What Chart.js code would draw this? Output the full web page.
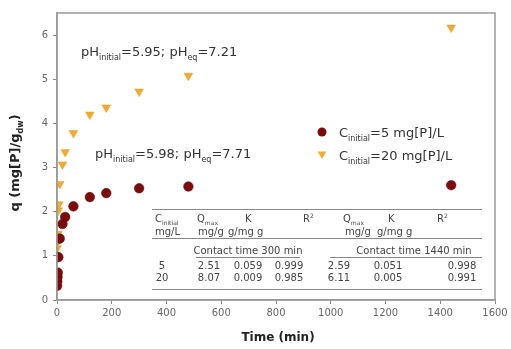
<!DOCTYPE html>
<html>
<head>
<meta charset="utf-8">
<title>P sorption kinetics</title>
<script src="https://cdn.jsdelivr.net/npm/chart.js@4.4.1/dist/chart.umd.min.js"></script>
<style>
html, body { margin: 0; padding: 0; background: #fff; }
</style>
</head>
<body>
<canvas id="mycanvas" width="511" height="349"></canvas>
<script>
// contact time (min) and sorbed P, C_initial = 5 mg[P]/L
var time5 = [0.5, 1, 2, 3, 5, 10, 20, 30, 60, 120, 180, 300, 480, 1440];
var q5 = [0.32, 0.42, 0.52, 0.62, 0.97, 1.39, 1.72, 1.88, 2.12, 2.33, 2.42, 2.53, 2.57, 2.6];
// C_initial = 20 mg[P]/L
var time20 = [0.5, 1, 2, 3, 5, 7, 10, 20, 30, 60, 120, 180, 300, 480, 1440];
var q20 = [1.17, 1.29, 1.43, 1.5, 2.03, 2.17, 2.63, 3.07, 3.35, 3.78, 4.2, 4.36, 4.72, 5.08, 6.17];

var seriesLabels = ['C_{initial}=5 mg[P]/L', 'C_{initial}=20 mg[P]/L'];
var phLabels = ['pH_{initial}=5.95; pH_{eq}=7.21', 'pH_{initial}=5.98; pH_{eq}=7.71'];
var xTitle = 'Time (min)';
var yTitle = 'q (mg[P]/g_{dw})';

// inset table
var tableHead = ['C_{initial}', 'Q_{max}', 'K', 'R^{2}', 'Q_{max}', 'K', 'R^{2}'];
var tableUnits = ['mg/L', 'mg/g', 'g/mg g', '', 'mg/g', 'g/mg g', ''];
var contactLabels = ['Contact time 300 min', 'Contact time 1440 min'];
var tableRows = [
  ['5', '2.51', '0.059', '0.999', '2.59', '0.051', '0.998'],
  ['20', '8.07', '0.009', '0.985', '6.11', '0.005', '0.991']
];

var FONT = '"DejaVu Sans", Arial, sans-serif';
var RED = '#7e0b0b';
var GOLD = '#f1ab30';

function toPoints(xs, ys) {
  return xs.map(function (x, i) { return {x: x, y: ys[i]}; });
}

// draws text with _{sub} and ^{sup} parts
function drawRich(ctx, str, x, y, size, align, weight) {
  var parts = [], re = /([_^])\{([^}]*)\}/g, last = 0, m;
  while ((m = re.exec(str))) {
    if (m.index > last) parts.push({t: str.slice(last, m.index), k: ''});
    parts.push({t: m[2], k: m[1]});
    last = re.lastIndex;
  }
  if (last < str.length) parts.push({t: str.slice(last), k: ''});
  var small = Math.round(size * 0.62);
  var w = 0;
  parts.forEach(function (p) {
    ctx.font = (weight || '') + ' ' + (p.k ? small : size) + 'px ' + FONT;
    p.w = ctx.measureText(p.t).width;
    w += p.w;
  });
  var cx = align === 'center' ? x - w / 2 : (align === 'right' ? x - w : x);
  ctx.textAlign = 'left';
  ctx.textBaseline = 'alphabetic';
  parts.forEach(function (p) {
    ctx.font = (weight || '') + ' ' + (p.k ? small : size) + 'px ' + FONT;
    var dy = p.k === '_' ? size * 0.3 : (p.k === '^' ? -size * 0.42 : 0);
    ctx.fillText(p.t, cx, y + dy);
    cx += p.w;
  });
}

function drawTriangle(ctx, x, y, r) {
  ctx.beginPath();
  ctx.moveTo(x - r * 0.87, y - r * 0.5);
  ctx.lineTo(x + r * 0.87, y - r * 0.5);
  ctx.lineTo(x, y + r);
  ctx.closePath();
}

var extras = {
  id: 'extras',
  afterDraw: function (chart) {
    var ctx = chart.ctx, a = chart.chartArea;
    ctx.save();
    // frame
    ctx.strokeStyle = '#999';
    ctx.lineWidth = 1.5;
    ctx.strokeRect(a.left, a.top, a.right - a.left, a.bottom - a.top);

    // axis titles
    ctx.fillStyle = '#222';
    drawRich(ctx, xTitle, (a.left + a.right) / 2 + 2, 341, 12, 'center', 'bold');
    ctx.save();
    ctx.translate(19, 163);
    ctx.rotate(-Math.PI / 2);
    drawRich(ctx, yTitle, 0, 0, 13, 'center', 'bold');
    ctx.restore();

    // pH notes
    ctx.fillStyle = '#333';
    drawRich(ctx, phLabels[0], 81, 56, 13, 'left');
    drawRich(ctx, phLabels[1], 95, 158, 13, 'left');

    // legend
    ctx.fillStyle = RED;
    ctx.beginPath();
    ctx.arc(322, 132, 4.5, 0, Math.PI * 2);
    ctx.fill();
    ctx.fillStyle = GOLD;
    drawTriangle(ctx, 322, 154, 5);
    ctx.fill();
    ctx.fillStyle = '#333';
    drawRich(ctx, seriesLabels[0], 339, 137, 13, 'left');
    drawRich(ctx, seriesLabels[1], 339, 160, 13, 'left');

    // table
    ctx.strokeStyle = '#888';
    ctx.lineWidth = 1;
    function hline(y, x0, x1) {
      ctx.beginPath(); ctx.moveTo(x0, y + 0.5); ctx.lineTo(x1, y + 0.5); ctx.stroke();
    }
    hline(209, 152, 482);
    hline(238, 152, 482);
    hline(289, 152, 482);
    hline(257, 196, 300);
    hline(257, 330, 482);
    ctx.fillStyle = '#444';
    var headX = [155, 197, 245, 303, 343, 388, 437];
    var unitX = [155, 198, 228, 0, 345, 377, 0];
    var valX = [162, 209, 248, 289, 339, 388, 462];
    tableHead.forEach(function (s, i) { drawRich(ctx, s, headX[i], 222, 10, 'left'); });
    tableUnits.forEach(function (s, i) { if (s) drawRich(ctx, s, unitX[i], 235, 10, 'left'); });
    drawRich(ctx, contactLabels[0], 248, 254, 10, 'center');
    drawRich(ctx, contactLabels[1], 414, 254, 10, 'center');
    tableRows.forEach(function (row, r) {
      row.forEach(function (s, i) { drawRich(ctx, s, valX[i], 269 + r * 12, 10, 'center'); });
    });
    ctx.restore();
  }
};

var ctx = document.getElementById('mycanvas').getContext('2d');
var chart = new Chart(ctx, {
  type: 'scatter',
  data: {
    datasets: [
      {
        label: seriesLabels[0],
        data: toPoints(time5, q5),
        pointStyle: 'circle',
        pointRadius: 4.8,
        backgroundColor: RED,
        borderColor: '#5c0000',
        borderWidth: 0.5
      },
      {
        label: seriesLabels[1],
        data: toPoints(time20, q20),
        pointStyle: 'triangle',
        pointRotation: 180,
        pointRadius: 5,
        backgroundColor: GOLD,
        borderColor: '#e39a1e',
        borderWidth: 0.5
      }
    ]
  },
  options: {
    responsive: false,
    animation: false,
    layout: {padding: {top: 13, right: 16, left: 0, bottom: 0}},
    plugins: {legend: {display: false}, tooltip: {enabled: false}},
    scales: {
      x: {
        type: 'linear', min: 0, max: 1600,
        ticks: {stepSize: 200, color: '#666', font: {size: 10, family: FONT}, padding: 3, maxRotation: 0,
          callback: function (v) { return String(v); }},
        grid: {drawOnChartArea: false, drawTicks: true, tickLength: 4, color: '#888'},
        border: {color: '#999', width: 1.5},
        afterFit: function (s) { s.height = 49; }
      },
      y: {
        min: 0, max: 6.5,
        ticks: {stepSize: 1, color: '#666', font: {size: 10, family: FONT}, padding: 5},
        grid: {drawOnChartArea: false, drawTicks: true, tickLength: 4, color: '#888'},
        border: {color: '#999', width: 1.5},
        afterBuildTicks: function (s) {
          s.ticks = s.ticks.filter(function (t) { return Number.isInteger(t.value); });
        },
        afterFit: function (s) { s.width = 57; }
      }
    }
  },
  plugins: [extras]
});
</script>
</body>
</html>
